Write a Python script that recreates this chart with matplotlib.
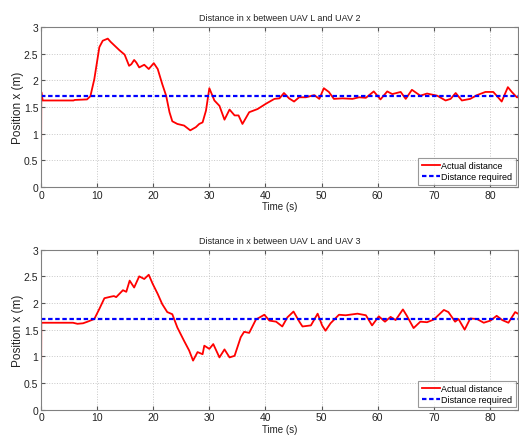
import matplotlib
matplotlib.use("Agg")
import matplotlib.pyplot as plt

plt.rcParams['font.family'] = ['Liberation Sans', 'DejaVu Sans']

# ---- data ----
t_uav2 = [0, 0.05, 0.3, 5.8, 6.0, 8.2, 8.8, 9.5, 10.4, 11.0, 11.9, 12.4, 13.1, 14.0, 14.9,
          15.7, 16.1, 16.6, 17.0, 17.5, 18.4, 19.2, 20.1, 20.8, 21.6, 22.3, 22.9, 23.4,
          24.3, 25.5, 26.6, 27.6, 28.2, 28.8, 29.4, 30.0, 30.9, 31.8, 32.7, 33.6, 34.5,
          35.2, 35.9, 37.1, 38.6, 40.1, 41.6, 42.5, 43.3, 44.2, 45.1, 46.0, 47.2, 48.7,
          49.6, 50.4, 51.3, 52.2, 53.7, 55.5, 56.7, 57.9, 59.3, 60.5, 61.7, 62.6, 64.1,
          65.0, 66.1, 67.6, 68.8, 70.6, 72.1, 73.0, 73.9, 75.0, 76.5, 77.7, 79.2, 80.6,
          81.2, 82.1, 83.2, 83.9, 84.8, 85.0]
d_uav2 = [0, 1.78, 1.62, 1.62, 1.63, 1.64, 1.70, 2.02, 2.62, 2.74, 2.78, 2.72, 2.65, 2.56, 2.48,
          2.27, 2.30, 2.38, 2.33, 2.24, 2.29, 2.21, 2.32, 2.21, 1.93, 1.71, 1.40, 1.23,
          1.18, 1.15, 1.06, 1.12, 1.18, 1.21, 1.43, 1.85, 1.62, 1.52, 1.26, 1.45, 1.34,
          1.34, 1.18, 1.40, 1.46, 1.56, 1.65, 1.66, 1.76, 1.66, 1.60, 1.68, 1.68, 1.72,
          1.65, 1.85, 1.78, 1.65, 1.66, 1.65, 1.68, 1.67, 1.79, 1.64, 1.79, 1.74, 1.78,
          1.65, 1.82, 1.71, 1.75, 1.71, 1.62, 1.65, 1.76, 1.62, 1.65, 1.72, 1.78, 1.78,
          1.71, 1.60, 1.87, 1.78, 1.68, 1.68]

t_uav3 = [0, 0.05, 5.7, 6.5, 7.5, 8.3, 9.5, 10.4, 11.3, 12.5, 13.0, 13.4, 14.6, 15.2, 15.8,
          16.6, 17.5, 18.4, 19.2, 19.9, 20.8, 21.6, 22.5, 23.4, 24.3, 25.5, 26.4, 27.1,
          27.9, 28.8, 29.1, 30.0, 30.7, 31.8, 32.7, 33.6, 34.5, 35.6, 36.2, 37.1, 38.3,
          39.8, 40.7, 41.9, 43.0, 43.9, 45.0, 46.1, 46.6, 48.1, 49.3, 50.1, 50.7, 51.6,
          53.1, 54.3, 56.4, 57.9, 59.0, 60.2, 61.3, 62.3, 63.2, 64.5, 65.2, 66.4, 67.6,
          68.8, 70.0, 71.8, 72.6, 73.8, 74.4, 75.5, 76.5, 77.7, 78.9, 80.1, 81.2, 82.2,
          83.3, 84.5, 85.0]
d_uav3 = [0, 1.63, 1.63, 1.61, 1.62, 1.65, 1.70, 1.89, 2.09, 2.12, 2.13, 2.11, 2.24, 2.21, 2.42,
          2.29, 2.50, 2.45, 2.53, 2.36, 2.17, 1.98, 1.83, 1.79, 1.54, 1.29, 1.11, 0.92,
          1.08, 1.04, 1.20, 1.14, 1.23, 0.98, 1.13, 0.98, 1.01, 1.36, 1.46, 1.44, 1.69,
          1.78, 1.67, 1.65, 1.56, 1.73, 1.84, 1.64, 1.56, 1.58, 1.80, 1.58, 1.48, 1.62,
          1.78, 1.77, 1.80, 1.77, 1.58, 1.75, 1.65, 1.74, 1.68, 1.88, 1.76, 1.53, 1.65,
          1.64, 1.69, 1.87, 1.83, 1.65, 1.70, 1.50, 1.71, 1.70, 1.63, 1.67, 1.76, 1.68,
          1.63, 1.83, 1.80]

required = 1.7
titles = ["Distance in x between UAV L and UAV 2", "Distance in x between UAV L and UAV 3"]
x_ticks = [0, 10, 20, 30, 40, 50, 60, 70, 80]
y_ticks = [0, 0.5, 1, 1.5, 2, 2.5, 3]
y_ticklabels = ["0", "0.5", "1", "1.5", "2", "2.5", "3"]

fig = plt.figure(figsize=(5.19, 4.39), dpi=100)
ax1 = fig.add_axes([0.079, 0.572, 0.919, 0.3645])
ax2 = fig.add_axes([0.079, 0.0645, 0.919, 0.3645])

for ax, t, d, title in [(ax1, t_uav2, d_uav2, titles[0]), (ax2, t_uav3, d_uav3, titles[1])]:
    ax.plot(t, d, color='#ff0000', lw=1.3, label='Actual distance')
    ax.axhline(required, color='#0000ff', lw=1.6, ls=(0, (2, 1.2)), label='Distance required')
    ax.set_xlim(0, 85)
    ax.set_ylim(0, 3)
    ax.set_xticks(x_ticks)
    ax.set_yticks(y_ticks)
    ax.set_yticklabels(y_ticklabels)
    ax.grid(True, color='#c8c8c8', ls=':', lw=0.7)
    ax.tick_params(direction='in', top=True, right=True, length=3, labelsize=7.5,
                   colors='#555555', labelcolor='#222222', pad=2)
    for s in ax.spines.values():
        s.set_color('#808080')
        s.set_linewidth(0.8)
    ax.set_title(title, fontsize=6.5, color='#222222', pad=5)
    ax.set_xlabel('Time (s)', fontsize=7, color='#222222', labelpad=1)
    ax.set_ylabel('Position x (m)', fontsize=8.5, color='#222222')
    ax.yaxis.set_label_coords(-0.036, 0.5)
    leg = ax.legend(loc='lower right', fontsize=6.5, frameon=True, fancybox=False,
                    borderaxespad=0.25, handlelength=2.0, handletextpad=0.2,
                    borderpad=0.35, labelspacing=0.25)
    leg.get_frame().set_edgecolor('#808080')
    leg.get_frame().set_linewidth(0.8)

fig.savefig('out.png', dpi=100)
